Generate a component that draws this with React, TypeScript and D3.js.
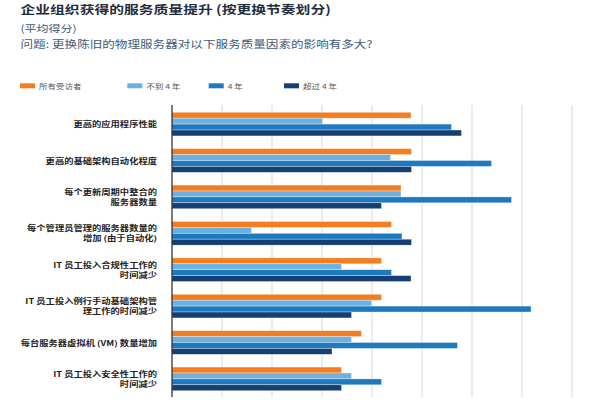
import React from "react";
import * as d3 from "d3";

const categories: string[][] = [
  ["更高的应用程序性能"],
  ["更高的基础架构自动化程度"],
  ["每个更新周期中整合的", "服务器数量"],
  ["每个管理员管理的服务器数量的", "增加 (由于自动化)"],
  ["IT 员工投入合规性工作的", "时间减少"],
  ["IT 员工投入例行手动基础架构管", "理工作的时间减少"],
  ["每台服务器虚拟机 (VM) 数量增加"],
  ["IT 员工投入安全性工作的", "时间减少"],
];

const seriesNames = ["所有受访者", "不到 4 年", "4 年", "超过 4 年"];
const seriesColors = ["#F47D20", "#6EB1E1", "#1E7ABF", "#153E73"];

const allRespondents = [4.78, 4.79, 4.58, 4.39, 4.19, 4.19, 3.79, 3.39];
const lessThan4 = [3.01, 4.37, 4.58, 1.59, 3.39, 3.99, 3.59, 3.59];
const fourYears = [5.59, 6.39, 6.79, 4.6, 4.39, 7.18, 5.71, 4.19];
const moreThan4 = [5.79, 4.79, 4.19, 4.79, 4.78, 3.59, 3.2, 3.39];

const gridTicks = [1, 2, 3, 4, 5, 6, 7, 8];

const series = [allRespondents, lessThan4, fourYears, moreThan4];

const SQ = 0.8;

function T(props: {
  x: number;
  y: number;
  size: number;
  children: React.ReactNode;
  fill?: string;
  weight?: number;
  anchor?: "start" | "end" | "middle";
}) {
  return (
    <text
      transform={`translate(${props.x},${props.y}) scale(1,${SQ})`}
      fontSize={props.size}
      fontWeight={props.weight ?? 400}
      fill={props.fill ?? "#222"}
      textAnchor={props.anchor ?? "start"}
    >
      {props.children}
    </text>
  );
}

export default function App() {
  const W = 600;
  const H = 400;
  const left = 172;
  const top = 105.9;
  const step = 36.4;
  const x = d3.scaleLinear().domain([0, 8]).range([left, left + 400]);
  const idx = categories.map((_, i) => String(i));
  const y = d3
    .scaleBand<string>()
    .domain(idx)
    .range([top, top + step * categories.length])
    .paddingInner(0.35)
    .paddingOuter(0.175);
  const y1 = d3
    .scaleBand<string>()
    .domain(seriesNames)
    .range([0, y.bandwidth()]);

  const font = "'Noto Sans CJK SC', 'Noto Sans', sans-serif";
  const legendX = [20, 127.3, 208.7, 284];

  return (
    <svg
      width={W}
      height={H}
      style={{ position: "absolute", left: 0, top: 0, background: "#fff" }}
      fontFamily={font}
    >
      <T x={20.5} y={14.3} size={14.8} weight={700} fill="#1f2d3d">
        企业组织获得的服务质量提升 (按更换节奏划分)
      </T>
      <T x={20.5} y={32.3} size={12} fill="#3d5a78">
        (平均得分)
      </T>
      <T x={20.5} y={47.5} size={12.6} fill="#3d5a78">
        问题: 更换陈旧的物理服务器对以下服务质量因素的影响有多大?
      </T>

      {seriesNames.map((s, i) => (
        <g key={s}>
          <rect x={legendX[i]} y={83.3} width={15} height={5} fill={seriesColors[i]} />
          <T x={legendX[i] + 19} y={88.6} size={8.5} fill="#555">
            {s}
          </T>
        </g>
      ))}

      {gridTicks.map((t) => (
        <line
          key={t}
          x1={x(t)}
          x2={x(t)}
          y1={105}
          y2={397}
          stroke="#e2e2e2"
          strokeWidth={1.3}
        />
      ))}

      {categories.map((c, i) => (
        <g key={i} transform={`translate(0,${y(String(i))})`}>
          {series.map((vals, j) => (
            <rect
              key={j}
              x={x(0)}
              y={y1(seriesNames[j])}
              width={x(vals[i]) - x(0)}
              height={y1.bandwidth()}
              fill={seriesColors[j]}
              stroke="rgba(255,255,255,0.55)"
              strokeWidth={0.6}
            />
          ))}
          {c.map((line, k) => (
            <T
              key={k}
              x={157}
              y={y.bandwidth() / 2 + (k - (c.length - 1) / 2) * 10 + 3}
              size={9.3}
              weight={700}
              anchor="end"
              fill="#222"
            >
              {line}
            </T>
          ))}
        </g>
      ))}

      <line x1={x(0)} x2={x(0)} y1={105} y2={397} stroke="#222" strokeWidth={1.2} />
    </svg>
  );
}
